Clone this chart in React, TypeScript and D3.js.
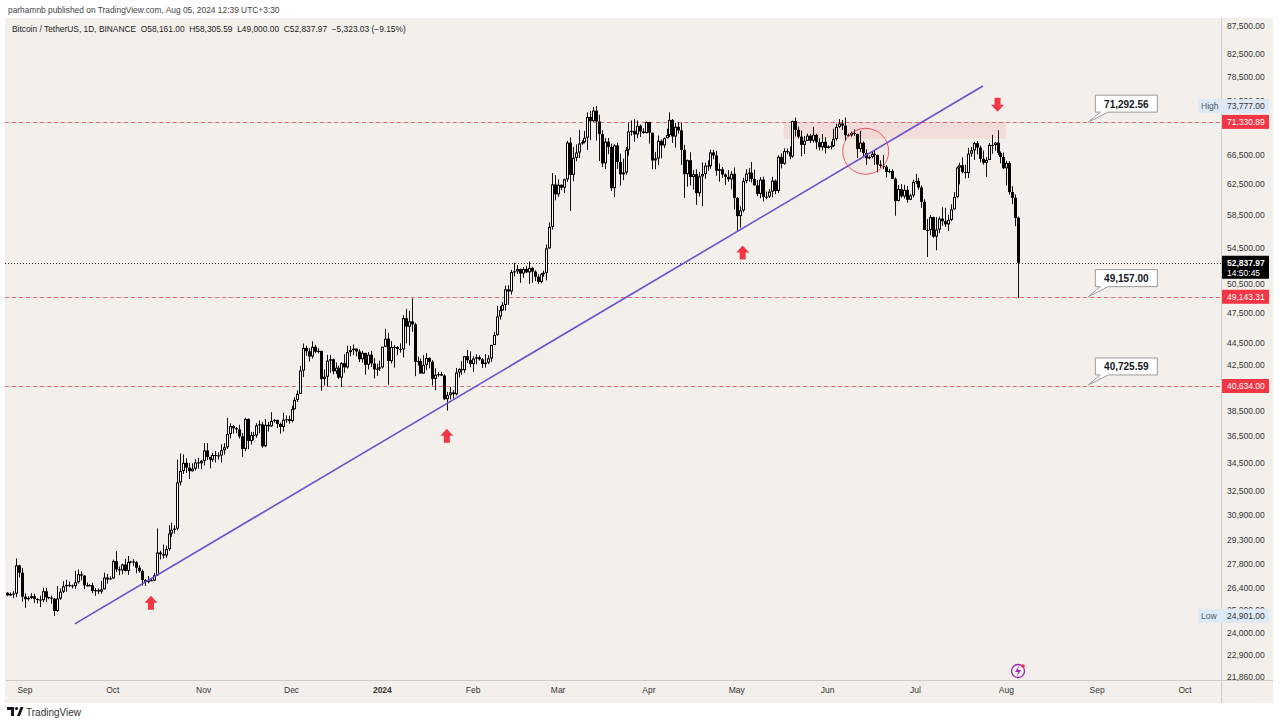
import React, { useEffect, useRef } from "react";
import * as d3 from "d3";

// daily candles BTC/USDT, in thousands: [open, high, low, close]
const aug23 = [[26.16,26.18,25.97,26.01],[26.01,26.18,25.99,26.09],[26.09,26.24,25.86,26.11],[26.11,28.14,25.92,27.73],[27.73,27.76,27.02,27.3],[27.3,27.58,25.66,25.94]];
const sep23 = [[25.94,26.13,25.33,25.8],[25.8,25.97,25.72,25.87],[25.87,26.13,25.81,25.97],[25.97,26.1,25.6,25.81],[25.81,25.86,25.57,25.78],[25.78,26,25.37,25.75],[25.75,26.44,25.64,26.24],[26.24,26.43,25.65,25.91],[25.91,25.94,25.8,25.89],[25.89,26,25.55,25.83],[25.83,25.88,24.9,25.16],[25.16,26.54,25.13,25.84],[25.84,26.4,25.76,26.22],[26.22,26.81,26.13,26.52],[26.52,26.89,26.22,26.6],[26.6,26.78,26.47,26.57],[26.57,26.62,26.4,26.53],[26.53,27.41,26.38,26.75],[26.75,27.49,26.67,27.21],[27.21,27.38,26.85,27.13],[27.13,27.16,26.36,26.57],[26.57,26.74,26.5,26.58],[26.58,26.63,26.52,26.58],[26.58,26.72,26.13,26.26],[26.26,26.43,25.99,26.3],[26.3,26.39,26.09,26.22],[26.22,26.82,26.11,26.35],[26.35,27.31,26.34,27.02],[27.02,27.23,26.67,26.91],[26.91,27.09,26.89,26.97]];
const oct23 = [[26.97,28.07,26.95,27.98],[27.98,28.58,27.33,27.49],[27.49,27.67,27.16,27.43],[27.43,27.83,27.21,27.78],[27.78,28.12,27.36,27.41],[27.41,28.29,27.18,27.93],[27.93,28,27.84,27.96],[27.96,28.1,27.69,27.92],[27.92,27.99,27.26,27.59],[27.59,27.73,27.3,27.39],[27.39,27.48,26.56,26.88],[26.88,26.94,26.54,26.76],[26.76,27.11,26.69,26.86],[26.86,26.99,26.81,26.85],[26.85,27.29,26.81,27.15],[27.15,30,27.11,28.5],[28.5,28.61,28.08,28.4],[28.4,28.99,28.13,28.32],[28.32,28.92,28.17,28.71],[28.71,30.21,28.6,29.67],[29.67,30.38,29.47,29.91],[29.91,30.2,29.68,29.99],[29.99,34.74,29.88,33.09],[33.09,35.2,32.88,33.9],[33.9,35.13,33.69,34.5],[34.5,34.84,33.76,34.15],[34.15,34.49,33.33,33.89],[33.89,34.46,33.86,34.08],[34.08,34.77,33.94,34.53],[34.53,34.86,34.08,34.47],[34.47,34.72,34.05,34.64]];
const nov23 = [[34.64,35.98,34.31,35.42],[35.42,35.98,34.7,34.94],[34.94,34.94,34.1,34.73],[34.73,35.26,34.58,35.08],[35.08,35.38,34.53,35.05],[35.05,35.28,34.74,35.04],[35.04,35.89,34.52,35.44],[35.44,35.98,35.11,35.66],[35.66,37.97,35.54,36.69],[36.69,37.53,36.33,37.31],[37.31,37.41,36.71,37.14],[37.14,37.23,36.75,37.05],[37.05,37.42,36.33,36.5],[36.5,36.76,34.95,35.54],[35.54,37.98,35.36,37.88],[37.88,37.93,35.52,36.15],[36.15,36.85,35.87,36.6],[36.6,36.85,36.2,36.57],[36.57,37.54,36.39,37.36],[37.36,37.76,36.74,37.45],[37.45,37.65,35.63,35.74],[35.74,37.86,35.67,37.41],[37.41,37.65,36.87,37.29],[37.29,38.43,37.25,37.72],[37.72,37.89,37.6,37.8],[37.8,37.83,37.15,37.48],[37.48,37.59,36.71,37.24],[37.24,38.38,36.88,37.82],[37.82,38.17,37.57,37.85],[37.85,38.15,37.5,37.72]];
const dec23 = [[37.72,38.96,37.6,38.68],[38.68,39.68,38.65,39.45],[39.45,40.25,39.27,39.97],[39.97,42.42,39.96,41.99],[41.99,44.49,41.42,44.07],[44.07,44.29,43.34,43.76],[43.76,44.05,42.82,43.27],[43.27,44.7,43.08,44.17],[44.17,44.37,43.58,43.71],[43.71,44.04,43.56,43.79],[43.79,43.8,40.22,41.24],[41.24,42.1,40.68,41.45],[41.45,43.43,40.58,42.89],[42.89,43.42,41.81,43.02],[43.02,43.09,41.66,41.93],[41.93,42.72,41.68,42.24],[42.24,42.42,41.25,41.37],[41.37,42.76,40.55,42.66],[42.66,43.49,41.8,42.28],[42.28,44.28,42.17,43.67],[43.67,44.24,43.28,43.86],[43.86,44.4,43.4,44],[44,44.02,43.29,43.74],[43.74,43.95,42.76,43.02],[43.02,43.8,42.72,43.61],[43.61,43.61,41.63,42.52],[42.52,43.68,42.1,43.44],[43.44,43.8,42.32,42.63],[42.63,43.12,41.3,42.1],[42.1,42.61,41.52,42.16],[42.16,42.9,41.97,42.28]];
const jan24 = [[42.28,44.18,42.18,44.18],[44.18,45.9,44.15,44.95],[44.95,45.5,40.75,42.85],[42.85,44.73,42.63,44.15],[44.15,44.34,42.26,44.16],[44.16,44.23,43.4,43.97],[43.97,44.5,43.63,43.93],[43.93,47.25,43.18,46.95],[46.95,47.9,44.5,46.11],[46.11,47.7,44.3,46.63],[46.63,48.97,45.61,46.34],[46.34,46.5,41.5,42.78],[42.78,43.26,42.44,42.85],[42.85,43.08,41.72,41.73],[41.73,43.4,41.72,42.51],[42.51,43.58,42.05,43.14],[43.14,43.2,42.2,42.78],[42.78,42.93,40.68,41.26],[41.26,42.2,40.28,41.62],[41.62,41.87,41.45,41.67],[41.67,41.89,41.5,41.55],[41.55,41.65,39.43,39.51],[39.51,40.13,38.56,39.85],[39.85,40.56,39.49,40.08],[40.08,40.29,39.55,39.93],[39.93,42.23,39.83,41.82],[41.82,42.2,41.39,42.12],[42.12,42.84,41.62,42.03],[42.03,43.31,41.8,43.3],[43.3,43.88,42.68,42.94],[42.94,43.75,42.28,42.58]];
const feb24 = [[42.58,43.29,41.88,43.08],[43.08,43.48,42.57,43.2],[43.2,43.38,42.89,43.01],[43.01,43.12,42.22,42.58],[42.58,43.49,42.26,42.71],[42.71,43.4,42.57,43.1],[43.1,44.37,42.79,44.35],[44.35,45.61,44.33,45.29],[45.29,48.2,45.24,47.13],[47.13,48.17,46.8,47.75],[47.75,48.59,47.69,48.3],[48.3,50.33,47.71,49.92],[49.92,50.37,48.3,49.7],[49.7,52.04,49.36,51.8],[51.8,52.82,51.33,51.88],[51.88,52.58,51.58,52.12],[52.12,52.19,50.63,51.64],[51.64,52.36,51.17,52.14],[52.14,52.49,51.68,51.77],[51.77,52.98,50.52,52.26],[52.26,52.37,50.63,51.85],[51.85,52,50.82,51.28],[51.28,51.55,50.5,50.73],[50.73,51.7,50.58,51.57],[51.57,51.96,51.28,51.73],[51.73,54.94,50.9,54.48],[54.48,57.59,54.45,57.04],[57.04,63.97,56.7,62.43],[62.43,63.68,60.36,61.13]];
const mar24 = [[61.13,63.11,60.78,62.39],[62.39,62.43,61.66,61.99],[61.99,63.23,61.32,63.11],[63.11,68.5,62.76,68.25],[68.25,69,59.01,63.72],[63.72,67.64,62.85,66.07],[66.07,67.99,65.6,66.82],[66.82,70.13,66.03,68.12],[68.12,68.59,67.93,68.31],[68.31,69.98,68.14,68.96],[68.96,72.8,67.19,72.08],[72.08,73,68.62,71.45],[71.45,73.65,71.33,73.07],[73.07,73.78,68.56,71.39],[71.39,72.42,65.63,69.5],[69.5,70.04,64.78,65.3],[65.3,68.92,64.53,68.39],[68.39,68.93,66.6,67.61],[67.61,68.12,61.56,61.94],[61.94,68.03,60.78,67.84],[67.84,68.24,64.53,65.5],[65.5,66.65,62.26,63.8],[63.8,65.97,63,64.04],[64.04,67.62,63.77,67.21],[67.21,71.15,66.39,69.88],[69.88,71.56,69.28,69.99],[69.99,71.73,68.38,69.46],[69.46,71.55,68.9,70.74],[70.74,70.91,69.08,69.89],[69.89,70.36,69.57,69.65],[69.65,71.37,69.61,71.33]];
const apr24 = [[71.33,71.34,68.11,69.7],[69.7,69.71,64.49,65.71],[65.71,66.91,64.49,66],[66,69.29,65.06,68.51],[68.51,68.72,66.01,67.84],[67.84,69,67.45,68.9],[68.9,70.33,68.85,69.36],[69.36,72.8,69.04,71.63],[71.63,71.76,68.21,69.14],[69.14,71.17,67.52,70.59],[70.59,71.26,69.57,70.06],[70.06,71.23,65.09,67.2],[67.2,67.93,60.66,63.82],[63.82,65.84,62.14,65.74],[65.74,66.87,62.3,63.43],[63.43,64.36,61.74,63.81],[63.81,64.48,59.77,61.28],[61.28,64.13,60.83,63.51],[63.51,65.45,59.6,63.84],[63.84,65.42,63.17,64.99],[64.99,65.72,64.28,64.93],[64.93,67.23,64.55,66.84],[66.84,67.2,65.87,66.41],[66.41,67.08,63.59,64.28],[64.28,65.29,62.79,64.48],[64.48,64.79,63.32,63.77],[63.77,63.92,62.39,63.46],[63.46,64.37,62.79,63.12],[63.12,64.23,61.77,63.87],[63.87,64.73,59.19,60.67]];
const may24 = [[60.67,60.78,56.55,58.36],[58.36,59.6,56.94,59.06],[59.06,63.32,58.85,62.88],[62.88,64.49,62.59,63.89],[63.89,64.65,62.82,64.01],[64.01,65.5,62.7,63.17],[63.17,64.44,62.3,62.31],[62.31,62.99,60.89,61.19],[61.19,63.42,60.63,63.07],[63.07,63.47,60.19,60.8],[60.8,61.49,60.49,60.83],[60.83,61.82,60.63,61.48],[61.48,63.45,60.75,62.94],[62.94,63.1,61.15,61.58],[61.58,66.44,61.33,66.21],[66.21,66.7,64.6,65.24],[65.24,67.44,65.11,67.02],[67.02,67.4,66.6,66.92],[66.92,67.7,65.86,66.27],[66.27,71.52,66.06,71.45],[71.45,71.98,69.16,70.14],[70.14,70.62,68.85,69.12],[69.12,70.04,66.3,67.93],[67.93,69.22,66.62,68.53],[68.53,69.57,68.52,69.27],[69.27,69.51,68.18,68.52],[68.52,70.6,68.23,69.39],[69.39,69.56,67.28,68.3],[68.3,68.9,67.12,67.58],[67.58,69.5,67.12,68.36],[68.36,69.03,66.67,67.49]];
const jun24 = [[67.49,67.86,67.39,67.71],[67.71,68.41,67.26,67.75],[67.75,70.29,67.61,68.8],[68.8,71.06,68.56,70.57],[70.57,71.76,70.39,71.08],[71.08,71.63,70.12,70.76],[70.76,72,68.48,69.34],[69.34,69.58,69.21,69.31],[69.31,69.86,69.13,69.65],[69.65,70.2,69.24,69.51],[69.51,69.56,66.05,67.32],[67.32,69.99,66.9,68.24],[68.24,68.45,66.3,66.76],[66.76,67.3,65.08,66.01],[66.01,66.4,65.87,66.19],[66.19,66.93,66,66.64],[66.64,67.19,65.07,66.49],[66.49,66.49,64.06,65.14],[65.14,65.73,64.69,64.96],[64.96,66.48,64.51,64.83],[64.83,65.07,63.38,64.1],[64.1,64.53,63.94,64.25],[64.25,64.49,63.18,63.18],[63.18,63.37,58.4,60.28],[60.28,62.37,60.22,61.81],[61.81,62.48,60.7,60.86],[60.86,62.39,60.6,61.71],[61.71,62.23,60.05,60.43],[60.43,61.2,60.38,60.99],[60.99,63.06,60.74,62.77]];
const jul24 = [[62.77,63.86,62.5,62.9],[62.9,63.29,61.75,62.03],[62.03,62.29,59.4,60.17],[60.17,60.5,56.77,56.66],[56.66,58,53.49,56.64],[56.64,58.48,56.02,58.23],[58.23,58.3,55.72,55.86],[55.86,58.24,54.26,56.71],[56.71,58.3,56.29,58.05],[58.05,59.47,57.16,57.73],[57.73,59.4,57.05,57.34],[57.34,58.53,56.53,57.89],[57.89,59.85,57.76,59.2],[59.2,61.42,59.2,60.8],[60.8,64.9,60.63,64.72],[64.72,65.39,62.43,65.04],[65.04,66.13,63.9,64.09],[64.09,65.12,63.24,63.99],[63.99,67.49,63.3,66.66],[66.66,67.6,66.22,67.14],[67.14,68.37,65.78,68.17],[68.17,68.48,66.57,67.53],[67.53,67.82,65.44,65.94],[65.94,67.1,65.11,65.37],[65.37,66.18,63.46,65.78],[65.78,68.2,65.75,67.91],[67.91,69.4,66.66,67.9],[67.9,68.32,67.07,68.25],[68.25,70.08,66.48,66.78],[66.78,66.99,65.3,66.19],[66.19,66.83,64.53,64.62]];
const aug24 = [[64.62,65.66,62.3,65.36],[65.36,65.6,61.11,61.42],[61.42,62.2,59.85,60.68],[60.68,61.12,57.12,58.12],[58.161,58.306,49,52.838]];

const monthBlocks: [string, number[][]][] = [
  ["2023-08-26", aug23], ["2023-09-01", sep23], ["2023-10-01", oct23], ["2023-11-01", nov23],
  ["2023-12-01", dec23], ["2024-01-01", jan24], ["2024-02-01", feb24], ["2024-03-01", mar24],
  ["2024-04-01", apr24], ["2024-05-01", may24], ["2024-06-01", jun24], ["2024-07-01", jul24],
  ["2024-08-01", aug24],
];

// visible price-axis ticks (70,500 and 40,500 sit under the level tags)
const priceTicks = [87500, 82500, 78500, 74500, 66500, 62500, 58500, 54500, 50500, 47500, 44500, 42500, 38500, 36500, 34500, 32500, 30900, 29300, 27800, 26400, 25200, 24000, 22900, 21860];
const timeTicks: [string, string][] = [
  ["2023-09-01", "Sep"], ["2023-10-01", "Oct"], ["2023-11-01", "Nov"], ["2023-12-01", "Dec"],
  ["2024-01-01", "2024"], ["2024-02-01", "Feb"], ["2024-03-01", "Mar"], ["2024-04-01", "Apr"],
  ["2024-05-01", "May"], ["2024-06-01", "Jun"], ["2024-07-01", "Jul"], ["2024-08-01", "Aug"],
  ["2024-09-01", "Sep"], ["2024-10-01", "Oct"],
];
const levelLines = [71330.89, 49143.31, 40634.0];
const calloutValues = [71292.56, 49157.0, 40725.59];
const lastPrice = 52837.97;
const countdown = "14:50:45";
const highPrice = 73777.0;
const lowPrice = 24901.0;

// drawings: [date, price]
const trendLine: [string, number][] = [["2023-09-18", 24480], ["2024-07-24", 77000]];
const upArrows: [string, number][] = [["2023-10-14", 25600], ["2024-01-23", 36550], ["2024-05-03", 54000]];
const downArrows: [string, number][] = [["2024-07-29", 74000]];
const zoneBox: [string, number, string, number] = ["2024-05-17", 71330.89, "2024-08-01", 68800];
const breakCircle: [string, number] = ["2024-06-14", 67000];
const calloutDate = "2024-08-29";

const header = "parhamnb published on TradingView.com, Aug 05, 2024 12:39 UTC+3:30";
const legend = "Bitcoin / TetherUS, 1D, BINANCE  O58,161.00  H58,305.59  L49,000.00  C52,837.97  \u22125,323.03 (\u22129.15%)";

const FONT = '"Liberation Sans", Arial, sans-serif';
const BG = "#f3f0eb";
const RED = "#f23645";
const fmt = d3.format(",.2f");
const day = (s: string) => new Date(s + "T00:00:00Z");

const App = () => {
  const ref = useRef<SVGSVGElement>(null);

  useEffect(() => {
    const svg = d3.select(ref.current);
    svg.selectAll("*").remove();

    const plotL = 5, plotR = 1221, plotT = 18, plotB = 680, axisR = 1273, bottom = 703;

    const x = d3.scaleUtc().domain([day("2023-09-01"), day("2024-10-01")]).range([25, 1185]);
    const y = d3.scaleLog().domain([21860, 87500]).range([677, 26]);

    const candles = monthBlocks.flatMap(([start, bars]) =>
      bars.map((b, i) => ({ date: d3.utcDay.offset(day(start), i), o: b[0] * 1000, h: b[1] * 1000, l: b[2] * 1000, c: b[3] * 1000 }))
    );

    // background
    svg.append("rect").attr("x", plotL).attr("y", plotT).attr("width", axisR - plotL).attr("height", bottom - plotT).attr("fill", BG);
    svg.append("line").attr("x1", plotR + 0.5).attr("x2", plotR + 0.5).attr("y1", plotT).attr("y2", bottom).attr("stroke", "#cfccc7");
    svg.append("line").attr("x1", plotL).attr("x2", axisR).attr("y1", plotB + 0.5).attr("y2", plotB + 0.5).attr("stroke", "#cfccc7");

    // header texts
    svg.append("text").attr("x", 8).attr("y", 13).attr("font-family", FONT).attr("font-size", 8.4).attr("fill", "#444").text(header);
    svg.append("text").attr("x", 12).attr("y", 32).attr("font-family", FONT).attr("font-size", 8.4).attr("fill", "#222").style("white-space", "pre").text(legend);

    const plot = svg.append("g");
    plot.append("clipPath").attr("id", "plotclip").append("rect").attr("x", plotL).attr("y", plotT).attr("width", plotR - plotL).attr("height", plotB - plotT);
    plot.attr("clip-path", "url(#plotclip)");

    // zone box
    plot.append("rect")
      .attr("x", x(day(zoneBox[0]))).attr("y", y(zoneBox[1]))
      .attr("width", x(day(zoneBox[2])) - x(day(zoneBox[0]))).attr("height", y(zoneBox[3]) - y(zoneBox[1]))
      .attr("fill", RED).attr("fill-opacity", 0.1);

    // horizontal levels
    levelLines.forEach((p) => {
      plot.append("line").attr("x1", plotL).attr("x2", plotR).attr("y1", Math.round(y(p)) + 0.5).attr("y2", Math.round(y(p)) + 0.5)
        .attr("stroke", RED).attr("stroke-opacity", 0.75).attr("stroke-dasharray", "4 3");
    });
    plot.append("line").attr("x1", plotL).attr("x2", plotR).attr("y1", Math.round(y(lastPrice)) + 0.5).attr("y2", Math.round(y(lastPrice)) + 0.5)
      .attr("stroke", "#333").attr("stroke-dasharray", "1 2");

    // candles
    const cg = plot.append("g");
    candles.forEach((d) => {
      const cx = Math.round(x(d.date));
      cg.append("rect").attr("x", cx).attr("width", 1).attr("y", y(d.h)).attr("height", y(d.l) - y(d.h)).attr("fill", "#111");
      const top = y(Math.max(d.o, d.c));
      const h = Math.max(1, y(Math.min(d.o, d.c)) - top);
      cg.append("rect").attr("x", cx - 1).attr("width", 3).attr("y", top).attr("height", h).attr("fill", "#000");
      if (d.c >= d.o && h > 2) {
        cg.append("rect").attr("x", cx).attr("width", 1).attr("y", top + 1).attr("height", h - 2).attr("fill", "#fff");
      }
    });

    // trend line
    plot.append("line")
      .attr("x1", x(day(trendLine[0][0]))).attr("y1", y(trendLine[0][1]))
      .attr("x2", x(day(trendLine[1][0]))).attr("y2", y(trendLine[1][1]))
      .attr("stroke", "#6650d2").attr("stroke-width", 1.6);

    // circle
    plot.append("circle").attr("cx", x(day(breakCircle[0]))).attr("cy", y(breakCircle[1])).attr("r", 23)
      .attr("fill", RED).attr("fill-opacity", 0.04).attr("stroke", RED).attr("stroke-opacity", 0.8).attr("stroke-width", 1);

    // arrows
    upArrows.forEach(([dt, p]) => {
      const ax = x(day(dt)), ay = y(p);
      plot.append("path").attr("fill", RED)
        .attr("d", `M${ax},${ay - 7}L${ax + 6.5},${ay}L${ax + 3},${ay}L${ax + 3},${ay + 7}L${ax - 3},${ay + 7}L${ax - 3},${ay}L${ax - 6.5},${ay}Z`);
    });
    downArrows.forEach(([dt, p]) => {
      const ax = x(day(dt)), ay = y(p);
      plot.append("path").attr("fill", RED)
        .attr("d", `M${ax},${ay + 7}L${ax + 6.5},${ay}L${ax + 3},${ay}L${ax + 3},${ay - 7}L${ax - 3},${ay - 7}L${ax - 3},${ay}L${ax - 6.5},${ay}Z`);
    });

    // callouts
    calloutValues.forEach((v) => {
      const tx = x(day(calloutDate)), ty = y(v);
      const bx = tx + 7, by = ty - 27, bw = 62, bh = 17;
      plot.append("path")
        .attr("d", `M${bx},${by}H${bx + bw}V${by + bh}H${bx + 13}L${tx},${ty}L${bx + 5},${by + bh}H${bx}Z`)
        .attr("fill", "#fff").attr("stroke", "#9a9a9a").attr("stroke-width", 1).attr("stroke-linejoin", "round");
      plot.append("text").attr("x", bx + bw / 2).attr("y", by + 12.5).attr("text-anchor", "middle")
        .attr("font-family", FONT).attr("font-size", 10).attr("font-weight", "bold").attr("fill", "#131722").text(fmt(v));
    });

    // events icon
    const ix = x(day("2024-08-05")), iy = 671;
    svg.append("circle").attr("cx", ix).attr("cy", iy).attr("r", 6.5).attr("fill", "none").attr("stroke", "#9c27b0").attr("stroke-width", 1.3);
    svg.append("path").attr("fill", "#9c27b0").attr("d", `M${ix + 1},${iy - 5}L${ix - 3},${iy + 1}L${ix},${iy + 1}L${ix - 1},${iy + 5}L${ix + 3},${iy - 1}L${ix},${iy - 1}Z`);
    svg.append("circle").attr("cx", ix + 5).attr("cy", iy - 5).attr("r", 1.8).attr("fill", RED);

    // time axis
    timeTicks.forEach(([dt, label]) => {
      svg.append("text").attr("x", x(day(dt))).attr("y", 693).attr("text-anchor", "middle")
        .attr("font-family", FONT).attr("font-size", 8.5).attr("font-weight", label === "2024" ? "bold" : "normal")
        .attr("fill", "#333").text(label);
    });

    // price axis
    priceTicks.forEach((p) => {
      svg.append("text").attr("x", 1227).attr("y", y(p) + 3).attr("font-family", FONT).attr("font-size", 8.5).attr("fill", "#333").text(fmt(p));
    });

    const tag = (p: number, fill: string, color: string, extra?: string, extraColor?: string) => {
      const ty = y(p);
      if (extra) {
        svg.append("rect").attr("x", 1198).attr("y", ty - 7).attr("width", axisR - 4 - 1198).attr("height", 14).attr("fill", fill);
        svg.append("text").attr("x", 1201).attr("y", ty + 3).attr("font-family", FONT).attr("font-size", 8.5).attr("fill", extraColor || "#555").text(extra);
      } else {
        svg.append("rect").attr("x", plotR + 1).attr("y", ty - 7).attr("width", axisR - 4 - plotR - 1).attr("height", 14).attr("fill", fill);
      }
      svg.append("text").attr("x", 1227).attr("y", ty + 3).attr("font-family", FONT).attr("font-size", 8.5).attr("fill", color).text(fmt(p));
    };
    tag(highPrice, "#dde9f5", "#333", "High", "#4a5a6a");
    tag(lowPrice, "#dde9f5", "#333", "Low", "#4a5a6a");
    levelLines.forEach((p) => tag(p, RED, "#fff"));

    // last price tag
    const ly = y(lastPrice);
    svg.append("rect").attr("x", plotR + 1).attr("y", ly - 7).attr("width", axisR - 4 - plotR - 1).attr("height", 23).attr("fill", "#000");
    svg.append("text").attr("x", 1227).attr("y", ly + 3).attr("font-family", FONT).attr("font-size", 8.5).attr("font-weight", "bold").attr("fill", "#fff").text(fmt(lastPrice));
    svg.append("text").attr("x", 1227).attr("y", ly + 13).attr("font-family", FONT).attr("font-size", 8.5).attr("fill", "#fff").text(countdown);

    // footer logo
    const logo = svg.append("g").attr("fill", "#131722");
    logo.append("path").attr("d", "M7,707H14V716H11V710H7Z");
    logo.append("circle").attr("cx", 16.5).attr("cy", 708.5).attr("r", 1.6);
    logo.append("path").attr("d", "M17,716L20.5,707H23.5L20,716Z");
    svg.append("text").attr("x", 26).attr("y", 716).attr("font-family", FONT).attr("font-size", 10).attr("fill", "#333").text("TradingView");
  }, []);

  return (
    <div style={{ position: "fixed", left: 0, top: 0, width: 1280, height: 725, background: "#fff" }}>
      <svg ref={ref} width={1280} height={725} style={{ display: "block" }}></svg>
    </div>
  );
};

export default App;
